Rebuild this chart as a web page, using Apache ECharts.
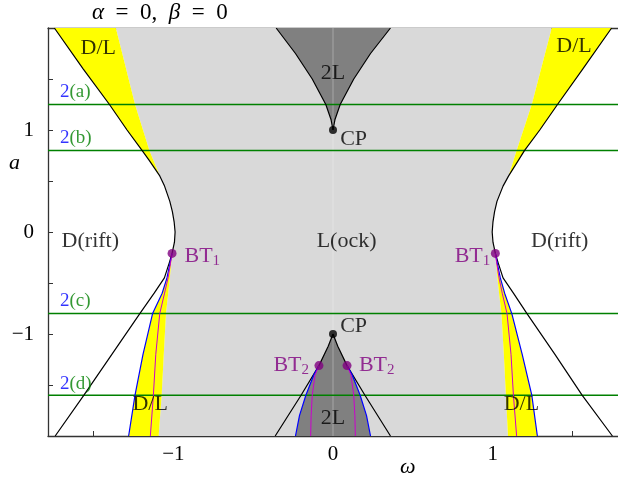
<!DOCTYPE html>
<html>
<head>
<meta charset="utf-8">
<script src="https://cdn.jsdelivr.net/npm/echarts@6/dist/echarts.min.js"></script>
<style>
html, body { margin: 0; padding: 0; background: #fff; }
#chart { width: 618px; height: 479px; }
</style>
</head>
<body>
<div id="chart"></div>
<script>
// outer boundary of the drift region, from a = 2 down to BT1
const upperA = [2, 1.6, 1.25, 1.0, 0.8, 0.7, 0.55, 0.45, 0.3, 0.2, 0.1, 0.0, -0.1, -0.21];
const upperLeftW = [-1.745, -1.565, -1.4, -1.29, -1.196, -1.15, -1.085, -1.055, -1.022, -1.006, -0.995, -0.989, -0.993, -1.008];
const upperRightW = [1.745, 1.565, 1.406, 1.295, 1.2, 1.16, 1.1, 1.065, 1.027, 1.012, 1.002, 0.997, 1.002, 1.017];
const junction = 6; // index where the upper yellow wedge closes

// upper edge of the lock region inside the yellow wedge
const edgeUpA = [2, 1.25, 0.8, 0.55];
const edgeUpLeftW = [-1.36, -1.24, -1.15, -1.085];
const edgeUpRightW = [1.37, 1.245, 1.15, 1.1];

// curves below BT1
const lowA = [-0.21, -0.3, -0.45, -0.6, -0.8, -1.2, -1.6, -2];
const blackLowLeftW = [-1.008, -1.025, -1.056, -1.12, -1.21, -1.385, -1.56, -1.74];
const blackLowRightW = [1.017, 1.034, 1.065, 1.13, 1.215, 1.39, 1.56, 1.75];
const blueLowLeftW = [-1.008, -1.02, -1.04, -1.07, -1.13, -1.19, -1.24, -1.28];
const blueLowRightW = [1.017, 1.028, 1.048, 1.075, 1.12, 1.185, 1.245, 1.28];
const magLowLeftW = [-1.008, -1.017, -1.033, -1.055, -1.085, -1.11, -1.125, -1.144];
const magLowRightW = [1.017, 1.025, 1.04, 1.06, 1.09, 1.115, 1.13, 1.15];
const edgeLowLeftW = [-1.008, -1.013, -1.022, -1.032, -1.046, -1.06, -1.073, -1.092];
const edgeLowRightW = [1.017, 1.022, 1.03, 1.04, 1.055, 1.07, 1.083, 1.096];

// 2L cusp above CP
const cuspA = [1, 1.1, 1.25, 1.5, 1.75, 2];
const cuspRightW = [0, 0.012, 0.045, 0.13, 0.235, 0.36];
const cuspLeftW = [0, -0.012, -0.045, -0.13, -0.235, -0.356];

// lines out of the lower CP
const cpLowA = [-1, -1.12, -1.31, -1.6, -2];
const cpLowRightW = [0, 0.03, 0.088, 0.2, 0.36];
const cpLowLeftW = [0, -0.03, -0.088, -0.2, -0.362];

// curves below BT2
const bt2A = [-1.31, -1.4, -1.6, -1.8, -2];
const blueBt2RightW = [0.088, 0.12, 0.17, 0.21, 0.235];
const blueBt2LeftW = [-0.088, -0.12, -0.17, -0.21, -0.235];
const magBt2RightW = [0.088, 0.112, 0.13, 0.137, 0.14];
const magBt2LeftW = [-0.088, -0.112, -0.13, -0.137, -0.14];

const greenA = [1.25, 0.8, -0.8, -1.6];
const greenNames = ["a", "b", "c", "d"];
const bt1Points = [[-1.008, -0.21], [1.017, -0.21]];
const bt2Points = [[-0.088, -1.31], [0.088, -1.31]];
const cpPoints = [[0, 1], [0, -1]];

const xTicks = [-1.5, -1, -0.5, 0, 0.5, 1, 1.5];
const yTicks = [-1.5, -1, -0.5, 0, 0.5, 1, 1.5];
const tickLabels = [-1, 0, 1];

const serif = "Liberation Serif";

function pts(ws, as) {
	return ws.map((w, i) => [w, as[i]]);
}

function polygon(points, color, z) {
	return {
		type: "custom",
		coordinateSystem: "cartesian2d",
		data: points,
		silent: true,
		z: z,
		renderItem: (params, api) => {
			if (params.dataIndex !== 0) return null;
			return {
				type: "polygon",
				shape: { points: points.map((p) => api.coord(p)) },
				style: { fill: color },
			};
		},
	};
}

function curve(points, color, width, z) {
	return {
		type: "line",
		data: points,
		showSymbol: false,
		silent: true,
		z: z,
		lineStyle: { color: color, width: width },
	};
}

const upLeft = pts(upperLeftW, upperA);
const upRight = pts(upperRightW, upperA);
const edgeUpLeft = pts(edgeUpLeftW, edgeUpA);
const edgeUpRight = pts(edgeUpRightW, edgeUpA);
const edgeLowLeft = pts(edgeLowLeftW, lowA);
const edgeLowRight = pts(edgeLowRightW, lowA);
const blueLowLeft = pts(blueLowLeftW, lowA);
const blueLowRight = pts(blueLowRightW, lowA);
const cpLowLeft = pts(cpLowLeftW, cpLowA);
const cpLowRight = pts(cpLowRightW, cpLowA);
const blueBt2Left = pts(blueBt2LeftW, bt2A);
const blueBt2Right = pts(blueBt2RightW, bt2A);

const lockRegion = [
	...edgeUpLeft,
	...upLeft.slice(junction),
	...edgeLowLeft,
	...edgeLowRight.slice().reverse(),
	...upRight.slice(junction).reverse(),
	...edgeUpRight.slice().reverse(),
];
const yellowUpLeft = [...upLeft.slice(0, junction + 1), ...edgeUpLeft.slice().reverse()];
const yellowUpRight = [...upRight.slice(0, junction + 1), ...edgeUpRight.slice().reverse()];
const yellowLowLeft = [...blueLowLeft, ...edgeLowLeft.slice().reverse()];
const yellowLowRight = [...blueLowRight, ...edgeLowRight.slice().reverse()];
const twoLUpper = [...pts(cuspRightW, cuspA), ...pts(cuspLeftW, cuspA).reverse()];
const twoLLower = [
	...cpLowRight.slice(0, 3),
	...blueBt2Right,
	...blueBt2Left.slice().reverse(),
	...cpLowLeft.slice(0, 3).reverse(),
];

const labels = [
	{ text: "D/L", at: [-1.47, 1.8], align: "center" },
	{ text: "D/L", at: [1.51, 1.82], align: "center" },
	{ text: "2L", at: [0, 1.56], align: "center" },
	{ text: "2L", at: [0, -1.83], align: "center" },
	{ text: "CP", at: [0.045, 0.91], align: "left" },
	{ text: "CP", at: [0.045, -0.92], align: "left" },
	{ text: "L(ock)", at: [0.085, -0.095], align: "center" },
	{ text: "D(rift)", at: [-1.52, -0.095], align: "center" },
	{ text: "D(rift)", at: [1.42, -0.095], align: "center" },
	{ text: "D/L", at: [-1.145, -1.69], align: "center" },
	{ text: "D/L", at: [1.18, -1.69], align: "center" },
	{ text: "{m|BT}{s|1}", at: [-0.93, -0.24], align: "left", purple: true },
	{ text: "{m|BT}{s|1}", at: [0.985, -0.24], align: "right", purple: true },
	{ text: "{m|BT}{s|2}", at: [0.1625, -1.31], align: "left", purple: true },
	{ text: "{m|BT}{s|2}", at: [-0.15, -1.31], align: "right", purple: true },
];
const greenLabelW = -1.71;
const greenLabelA = [1.37, 0.92, -0.68, -1.49];

const series = [
	polygon(lockRegion, "#d9d9d9", 1),
	polygon(yellowUpLeft, "#ffff00", 2),
	polygon(yellowUpRight, "#ffff00", 2),
	polygon(yellowLowLeft, "#ffff00", 2),
	polygon(yellowLowRight, "#ffff00", 2),
	polygon(twoLUpper, "#808080", 2),
	polygon(twoLLower, "#808080", 2),
	curve([[0, -2], [0, 2]], "rgba(255,255,255,0.3)", 1, 3),
];

greenA.forEach((a) => {
	series.push(curve([[-1.785, a], [1.785, a]], "#008000", 1.5, 4));
});

series.push(
	curve(upLeft, "#000", 1.2, 5),
	curve(upRight, "#000", 1.2, 5),
	curve(pts(blackLowLeftW, lowA), "#000", 1.2, 5),
	curve(pts(blackLowRightW, lowA), "#000", 1.2, 5),
	curve(pts(cuspRightW, cuspA), "#000", 1.2, 5),
	curve(pts(cuspLeftW, cuspA), "#000", 1.2, 5),
	curve(cpLowRight, "#000", 1.2, 5),
	curve(cpLowLeft, "#000", 1.2, 5),
	curve(blueLowLeft, "#0000ff", 1.2, 5),
	curve(blueLowRight, "#0000ff", 1.2, 5),
	curve(blueBt2Left, "#0000ff", 1.2, 5),
	curve(blueBt2Right, "#0000ff", 1.2, 5),
	curve(pts(magLowLeftW, lowA), "#cc00cc", 1, 6),
	curve(pts(magLowRightW, lowA), "#cc00cc", 1, 6),
	curve(pts(magBt2LeftW, bt2A), "#cc00cc", 1, 6),
	curve(pts(magBt2RightW, bt2A), "#cc00cc", 1, 6)
);

series.push({
	type: "scatter",
	data: [...bt1Points, ...bt2Points],
	symbolSize: 9,
	itemStyle: { color: "#800080" },
	silent: true,
	z: 7,
});
series.push({
	type: "scatter",
	data: cpPoints,
	symbolSize: 8,
	itemStyle: { color: "#000" },
	silent: true,
	z: 7,
});

const richText = {
	m: { fontFamily: serif, fontSize: 22, lineHeight: 24 },
	s: { fontFamily: serif, fontSize: 15, lineHeight: 15, verticalAlign: "bottom" },
	b: { fontFamily: serif, fontSize: 19, color: "#0000ff" },
	g: { fontFamily: serif, fontSize: 19, color: "#008000" },
};

series.push({
	type: "scatter",
	symbolSize: 0,
	silent: true,
	z: 8,
	data: labels
		.map((l) => ({
			value: l.at,
			label: {
				show: true,
				position: "inside",
				formatter: l.text,
				align: l.align,
				verticalAlign: "middle",
				fontFamily: serif,
				fontSize: 22,
				color: l.purple ? "#800080" : "#000",
				rich: l.purple
					? {
							m: { ...richText.m, color: "#800080" },
							s: { ...richText.s, color: "#800080" },
					  }
					: undefined,
			},
		}))
		.concat(
			greenNames.map((n, i) => ({
				value: [greenLabelW, greenLabelA[i]],
				label: {
					show: true,
					position: "inside",
					align: "left",
					verticalAlign: "middle",
					formatter: "{b|2}{g|(" + n + ")}",
					rich: { b: richText.b, g: richText.g },
				},
			}))
		),
});

function fmt(v) {
	return v < 0 ? "\u2212" + -v : String(v);
}

const chart = echarts.init(document.getElementById("chart"), null, { renderer: "canvas" });
chart.setOption({
	animation: false,
	backgroundColor: "#fff",
	grid: { left: 48, top: 28, width: 571, height: 408 },
	xAxis: [
		{
			type: "value",
			min: -1.785,
			max: 1.785,
			splitLine: { show: false },
			axisLine: { onZero: false, lineStyle: { color: "#333", width: 1.3 } },
			axisTick: { inside: true, length: 5, customValues: xTicks, lineStyle: { color: "#333" } },
			axisLabel: {
				customValues: tickLabels,
				formatter: fmt,
				fontFamily: serif,
				fontSize: 21,
				color: "#000",
				margin: 8,
			},
		},
		{
			type: "value",
			position: "top",
			min: -1.785,
			max: 1.785,
			splitLine: { show: false },
			axisLine: { onZero: false, lineStyle: { color: "#333", width: 1.3 } },
			axisTick: { show: false },
			axisLabel: { show: false },
		},
	],
	yAxis: {
		type: "value",
		min: -2,
		max: 2,
		splitLine: { show: false },
		axisLine: { onZero: false, lineStyle: { color: "#333", width: 1.3 } },
		axisTick: { inside: true, length: 5, customValues: yTicks, lineStyle: { color: "#333" } },
		axisLabel: {
			customValues: tickLabels,
			formatter: fmt,
			fontFamily: serif,
			fontSize: 21,
			color: "#000",
			margin: 14,
		},
	},
	graphic: [
		{
			type: "text",
			left: 92,
			top: 1,
			style: {
				text: "{i|α}\u2002=\u20020,\u2002{i|β}\u2002=\u20020",
				fontFamily: serif,
				fontSize: 23,
				fill: "#000",
				rich: { i: { fontFamily: serif, fontStyle: "italic", fontSize: 23 } },
			},
		},
		{
			type: "text",
			left: 9,
			top: 152,
			style: { text: "a", fontFamily: serif, fontStyle: "italic", fontSize: 22, fill: "#000" },
		},
		{
			type: "text",
			left: 400,
			top: 456,
			style: { text: "ω", fontFamily: serif, fontStyle: "italic", fontSize: 22, fill: "#000" },
		},
	],
	series: series,
});
</script>
</body>
</html>
